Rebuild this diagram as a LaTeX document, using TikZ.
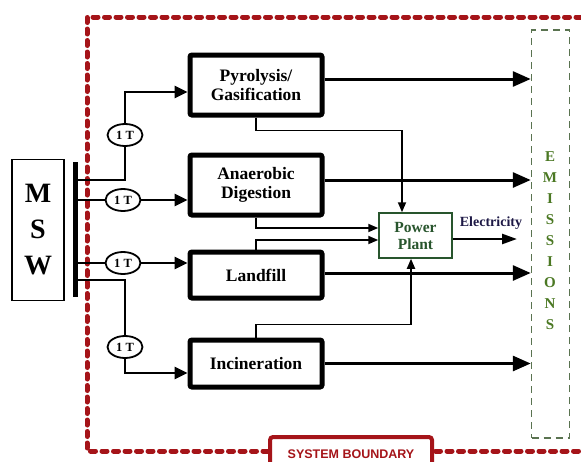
\documentclass[tikz,border=0pt]{standalone}
\usepackage{fontspec}
\setmainfont{Liberation Serif}
\newfontfamily\boundfont{Liberation Sans}
\usetikzlibrary{shapes.geometric, arrows.meta}
\definecolor{boundred}{RGB}{165, 20, 25}
\definecolor{plantgreen}{RGB}{40, 85, 45}
\definecolor{emgreen}{RGB}{75, 120, 35}
\definecolor{emdash}{RGB}{90, 115, 80}
\definecolor{elecblue}{RGB}{30, 25, 70}

\begin{document}
\begin{tikzpicture}[
    x=1pt, y=-1pt,
    proc/.style={rectangle, draw, line width=5pt, rounded corners=2pt, minimum width=132pt, align=center, font=\fontsize{17.5}{19.5}\selectfont\bfseries},
    ton/.style={ellipse, draw, line width=1.8pt, minimum width=35pt, minimum height=22pt, inner sep=0pt, font=\fontsize{12.5}{14}\selectfont\bfseries},
    plant/.style={rectangle, draw=plantgreen, line width=1.5pt, minimum width=73pt, minimum height=45pt, align=center, text=plantgreen, font=\fontsize{15.5}{17}\selectfont\bfseries},
    feed/.style={line width=2.7pt},
    flow/.style={line width=2.7pt, -{Triangle[length=13pt, width=12pt]}},
    emit/.style={line width=3pt, -{Triangle[length=18pt, width=15pt]}},
    topower/.style={line width=1.8pt, -{Triangle[length=10pt, width=8pt]}},
    bound/.style={draw=boundred, line width=5pt, line cap=round, dash pattern=on 5pt off 6.5pt}
]
    \useasboundingbox (0,0) rectangle (581,461);
    \clip (0,0) rectangle (581,461);

    % system boundary
    \draw[bound] (581,17) -- (87,17) -- (87,451) -- (581,451);
    \node[rectangle, draw=boundred, fill=white, line width=4pt, rounded corners=3pt, anchor=north, minimum width=162pt, minimum height=34pt, text=boundred, font=\boundfont\fontsize{12.5}{14}\selectfont\bfseries] (sysbox) at (351,435) {SYSTEM BOUNDARY};

    % emissions
    \node[rectangle, draw=emdash, line width=1.5pt, dash pattern=on 7pt off 5pt, minimum width=38pt, minimum height=408pt] (em) at (550.5,234) {};
    \node[align=center, text=emgreen, font=\fontsize{15}{21}\selectfont\bfseries] (emlbl) at (550,241) {E\\M\\I\\S\\S\\I\\O\\N\\S};

    % MSW and bus
    \node[rectangle, draw, line width=1.5pt, minimum width=52pt, minimum height=141pt, align=center, font=\fontsize{28}{36}\selectfont\bfseries] (msw) at (38,230) {M\\S\\W};
    \node[rectangle, fill, minimum width=5pt, minimum height=135pt, inner sep=0pt] (bus) at (75,229.5) {};

    % processes
    \node[proc, minimum height=60pt] (pyro) at (256,85) {Pyrolysis/\\Gasification};
    \node[proc, minimum height=60pt] (ana) at (256,185) {Anaerobic\\Digestion};
    \node[proc, minimum height=46pt] (land) at (256,275) {Landfill};
    \node[proc, minimum height=47pt] (inc) at (256,363.5) {Incineration};

    \node[ton] (t1) at (125,135) {1 T};
    \node[ton] (t2) at (123,200) {1 T};
    \node[ton] (t3) at (123,263) {1 T};
    \node[ton] (t4) at (125,347) {1 T};

    \draw[feed] (bus.east |- 0,180) -| (t1.south);
    \draw[flow] (t1.north) |- ([yshift=-7pt]pyro.west);
    \draw[feed] (bus.east |- t2) -- (t2.west);
    \draw[flow] (t2.east) -- (ana.west |- t2);
    \draw[feed] (bus.east |- t3) -- (t3.west);
    \draw[flow] (t3.east) -- (land.west |- t3);
    \draw[feed] (bus.east |- 0,280) -| (t4.north);
    \draw[flow] (t4.south) |- ([yshift=-9.5pt]inc.west);

    % to emissions
    \coordinate (pyout) at ([yshift=6pt]pyro.east);
    \coordinate (anout) at ([yshift=5pt]ana.east);
    \coordinate (laout) at ([yshift=2pt]land.east);
    \coordinate (inout) at (inc.east);
    \draw[emit] (pyout) -- (pyout -| em.west);
    \draw[emit] (anout) -- (anout -| em.west);
    \draw[emit] (laout) -- (laout -| em.west);
    \draw[emit] (inout) -- (inout -| em.west);

    % power plant
    \node[plant] (pp) at (415.5,235.5) {Power\\Plant};
    \draw[topower] (pyro.south) -- ++(0,13) -| ([xshift=-13.5pt]pp.north);
    \draw[topower] (ana.south) |- ([yshift=7.5pt]pp.west);
    \draw[topower] (land.north) |- ([yshift=-4.5pt]pp.west);
    \draw[topower] (inc.north) -- ++(0,-13) -| ([xshift=-4.5pt]pp.south);

    \coordinate (elecend) at (517,239);
    \draw[line width=2.5pt, -{Triangle[length=15pt, width=10pt]}] ([yshift=-3.5pt]pp.east) -- (elecend);
    \node[text=elecblue, font=\fontsize{14}{16}\selectfont\bfseries] (eleclbl) at (491,223) {Electricity};
\end{tikzpicture}
\end{document}
